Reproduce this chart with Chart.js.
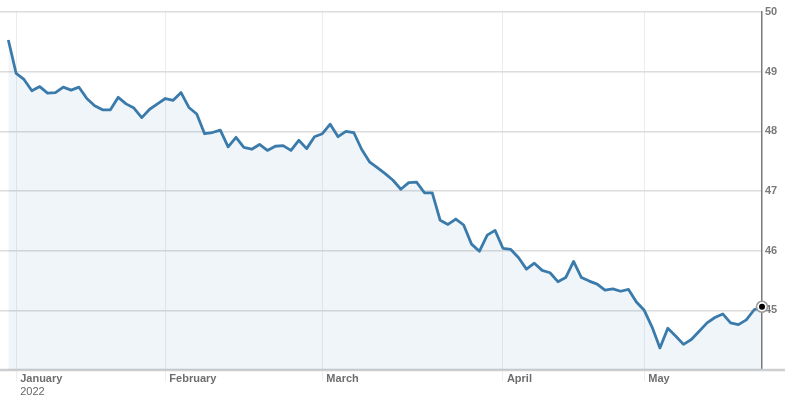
<!DOCTYPE html>
<html>
<head>
<meta charset="utf-8">
<script src="https://cdn.jsdelivr.net/npm/chart.js@4"></script>
<style>
  html, body { margin: 0; padding: 0; background: #fff; }
  #wrap { width: 799px; height: 409px; }
</style>
</head>
<body>
<div id="wrap"><canvas id="chart"></canvas></div>
<script>
// valeurs (une par séance)
const values = [
    49.53, 48.97, 48.87, 48.68, 48.75, 48.64, 48.65, 48.74, 48.69, 48.74,
    48.55, 48.43, 48.36, 48.36, 48.57, 48.46, 48.39, 48.23, 48.37, 48.46,
    48.55, 48.52, 48.65, 48.40, 48.29, 47.96, 47.98, 48.02, 47.74, 47.90,
    47.73, 47.70, 47.78, 47.68, 47.75, 47.76, 47.68, 47.85, 47.71, 47.91,
    47.96, 48.12, 47.91, 48.00, 47.98, 47.70, 47.49, 47.39, 47.29, 47.18,
    47.03, 47.14, 47.15, 46.97, 46.97, 46.51, 46.44, 46.53, 46.43, 46.11,
    45.99, 46.26, 46.34, 46.04, 46.02, 45.88, 45.69, 45.79, 45.67, 45.63,
    45.48, 45.55, 45.82, 45.55, 45.49, 45.44, 45.34, 45.36, 45.32, 45.35,
    45.14, 45.00, 44.72, 44.37, 44.70, 44.57, 44.43, 44.51, 44.65, 44.79,
    44.88, 44.94, 44.79, 44.76, 44.84, 45.01, 45.06
];

// début de chaque mois (index de la séance)
const monthTicks = [1, 20, 40, 63, 81];
const monthLabels = ["January", "February", "March", "April", "May"];
const yearLabel = "2022";

const yTicks = [45, 46, 47, 48, 49, 50];

const points = values.map((v, i) => ({ x: i, y: v }));
const lastPoint = [points[points.length - 1]];

// "2022" sous "January", en police normale
const yearPlugin = {
    id: "yearLabel",
    afterDraw(chart) {
        const ctx = chart.ctx;
        const x = chart.scales.x.getPixelForValue(monthTicks[0]) + 4;
        ctx.save();
        ctx.font = "11px 'Liberation Sans', Arial, sans-serif";
        ctx.fillStyle = "#666";
        ctx.textBaseline = "middle";
        ctx.fillText(yearLabel, x, 392);
        ctx.restore();
    }
};

// ligne du bas qui dépasse un peu l'axe de droite
const baseLinePlugin = {
    id: "baseLine",
    beforeDatasetsDraw(chart) {
        const { ctx, chartArea } = chart;
        ctx.save();
        ctx.strokeStyle = "#cfcfcf";
        ctx.lineWidth = 2.5;
        ctx.beginPath();
        ctx.moveTo(0, chartArea.bottom);
        ctx.lineTo(chartArea.right + 23, chartArea.bottom);
        ctx.stroke();
        ctx.restore();
    }
};

new Chart(document.getElementById("chart"), {
    type: "line",
    data: {
        datasets: [
            {
                data: lastPoint,
                pointRadius: 3,
                pointBackgroundColor: "#000",
                pointBorderWidth: 0,
                showLine: false,
                clip: false,
            },
            {
                data: lastPoint,
                pointRadius: 5.5,
                pointBackgroundColor: "#fff",
                pointBorderColor: "#999",
                pointBorderWidth: 1.5,
                showLine: false,
                clip: false,
            },
            {
                data: points,
                borderColor: "#3a7bab",
                borderWidth: 2.8,
                backgroundColor: "rgba(60, 130, 180, 0.08)",
                fill: "start",
                tension: 0,
                pointRadius: 0,
                borderJoinStyle: "round",
            },
        ],
    },
    options: {
        responsive: true,
        maintainAspectRatio: false,
        animation: false,
        events: [],
        layout: { autoPadding: false, padding: { top: 12, left: 0, right: 0, bottom: 0 } },
        plugins: {
            legend: { display: false },
            tooltip: { enabled: false },
        },
        scales: {
            x: {
                type: "linear",
                min: -1.06,
                max: values.length - 1,
                afterBuildTicks: (scale) => {
                    scale.ticks = monthTicks.map((v) => ({ value: v }));
                },
                afterFit: (scale) => {
                    scale.height = 39;
                    scale.paddingLeft = 0;
                    scale.paddingRight = 0;
                },
                border: { display: false },
                grid: {
                    color: "#ececec",
                    lineWidth: 1,
                    tickLength: 11,
                },
                ticks: {
                    autoSkip: false,
                    maxRotation: 0,
                    align: "start",
                    labelOffset: 4,
                    padding: -9,
                    color: "#6e6e6e",
                    font: { family: "'Liberation Sans', Arial, sans-serif", size: 11, weight: "bold" },
                    callback: (value) => monthLabels[monthTicks.indexOf(value)] || "",
                },
            },
            y: {
                position: "right",
                min: 44,
                max: 50,
                afterBuildTicks: (scale) => {
                    scale.ticks = yTicks.map((v) => ({ value: v }));
                },
                afterFit: (scale) => {
                    scale.width = 37;
                    scale.paddingLeft = 0;
                    scale.paddingRight = 0;
                },
                border: { color: "#7a7a7a", width: 1.5 },
                grid: {
                    color: "#dcdcdc",
                    lineWidth: 1.5,
                    drawTicks: false,
                },
                ticks: {
                    padding: 3,
                    color: "#7a7a7a",
                    font: { family: "'Liberation Sans', Arial, sans-serif", size: 11, weight: "bold" },
                },
            },
        },
    },
    plugins: [yearPlugin, baseLinePlugin],
});
</script>
</body>
</html>
